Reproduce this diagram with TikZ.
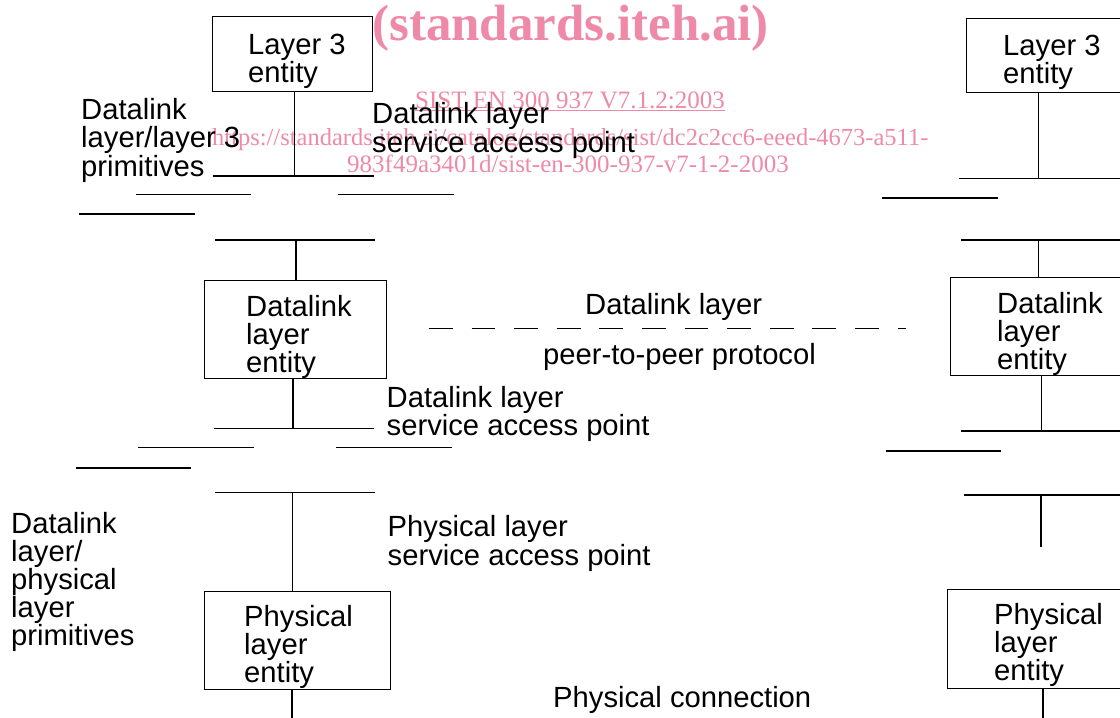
\documentclass[tikz,border=0pt]{standalone}
\usepackage{fontspec}
\setmainfont{Liberation Sans}
\newfontfamily\wmfont{Liberation Serif}
\definecolor{wmpink}{RGB}{238,138,168}
\newcommand\mlines[1]{\vtop{\halign{##\hfil\cr#1\crcr}}}
\begin{document}
\begin{tikzpicture}[x=1pt,y=-1pt,
  lbl/.style={inner sep=0pt, anchor=base west, font=\fontsize{29.2}{#1}\selectfont},
  lbl/.default=28,
  wm/.style={inner sep=0pt, anchor=base west, text=wmpink, font=\wmfont\fontsize{#1}{#1}\selectfont},
  ent/.style={draw, line width=1.1pt, inner sep=0pt, anchor=north west},
  ln/.style={line width=1.1pt},
  dashln/.style={line width=1.1pt, dash pattern=on 23.7pt off 18.9pt}]
\useasboundingbox (0,0) rectangle (1120,718);
\clip (0,0) rectangle (1120,718);
% ---------- watermark (behind) ----------
\node[wm=51] (wm1) at (372,40) {\bfseries (standards.iteh.ai)};
\node[wm=25] (wm2) at (415,108) {\underline{SIST EN 300 937 V7.1.2:2003}};
\node[wm=24.5] (wm3) at (212,145) {https://standards.iteh.ai/catalog/standards/sist/dc2c2cc6-eeed-4673-a511-};
\node[wm=25] (wm4) at (347,172) {983f49a3401d/sist-en-300-937-v7-1-2-2003};
% ---------- left stack ----------
\node[ent, minimum width=160pt, minimum height=75pt] (l3L) at (212,16) {};
\node[lbl] (l3Lt) at (248,54) {\mlines{Layer 3\cr entity}};
\coordinate (sapAL) at (213,176);  \coordinate (sapAR) at (374,176);
\draw[ln] (sapAL) -- (sapAR);
\draw[ln] (294.5,91) coordinate (l3Ls) -- (294.5,176) coordinate (sapAm);
\draw[ln] (136,194.5) coordinate (p1a) -- (251,194.5) coordinate (p1b);
\draw[ln] (338,194.5) coordinate (p2a) -- (454,194.5) coordinate (p2b);
\draw[ln] (79,214) coordinate (p3a) -- (195,214) coordinate (p3b);
\draw[ln] (215,240) coordinate (sapBL) -- (375,240) coordinate (sapBR);
\node[ent, minimum width=182.5pt, minimum height=97.5pt] (dlL) at (203.5,280) {};
\draw[ln] (296,240) coordinate (sapBm) -- (296,280);
\node[lbl] (dlLt) at (246,316.7) {\mlines{Datalink\cr layer\cr entity}};
\draw[ln] (293,377.5) -- (293,428.5) coordinate (sapCm);
\draw[ln] (214,428.5) coordinate (sapCL) -- (374,428.5) coordinate (sapCR);
\draw[ln] (138,447.7) coordinate (q1a) -- (254,447.7) coordinate (q1b);
\draw[ln] (336,447.7) coordinate (q2a) -- (452,447.7) coordinate (q2b);
\draw[ln] (76,468) coordinate (q3a) -- (191,468) coordinate (q3b);
\draw[ln] (215,492.7) coordinate (sapDL) -- (375,492.7) coordinate (sapDR);
\node[ent, minimum width=186pt, minimum height=98pt] (phL) at (204,591) {};
\draw[ln] (292.7,492.7) coordinate (sapDm) -- (292.7,591);
\node[lbl] (phLt) at (244,626) {\mlines{Physical\cr layer\cr entity}};
\coordinate (medL) at (292,718);
\draw[ln] (292,689) -- (medL);
% ---------- right stack ----------
\node[ent, minimum width=160pt, minimum height=74pt] (l3R) at (966,18) {};
\node[lbl] (l3Rt) at (1003,55) {\mlines{Layer 3\cr entity}};
\draw[ln] (1038.7,92) -- (1038.7,178.3) coordinate (rsapAm);
\draw[ln] (958.7,178.3) coordinate (rsapAL) -- (1120,178.3) coordinate (rsapAR);
\draw[ln] (882,198) coordinate (r1a) -- (998,198) coordinate (r1b);
\draw[ln] (961,240) coordinate (rsapBL) -- (1120,240) coordinate (rsapBR);
\node[ent, minimum width=181pt, minimum height=98pt] (dlR) at (950,277) {};
\draw[ln] (1038.7,240) -- (1038.7,277);
\node[lbl] (dlRt) at (997,313) {\mlines{Datalink\cr layer\cr entity}};
\draw[ln] (1041.4,375) -- (1041.4,431) coordinate (rsapCm);
\draw[ln] (961,431) coordinate (rsapCL) -- (1120,431) coordinate (rsapCR);
\draw[ln] (885.7,451) coordinate (r2a) -- (1001,451) coordinate (r2b);
\draw[ln] (964,495) coordinate (rsapDL) -- (1120,495) coordinate (rsapDR);
\draw[ln] (1041,495) -- (1041,547.3) coordinate (rsapDe);
\node[ent, minimum width=186pt, minimum height=98.5pt] (phR) at (947,589) {};
\node[lbl] (phRt) at (994,624) {\mlines{Physical\cr layer\cr entity}};
\coordinate (medR) at (1043,718);
\draw[ln] (1043,687.5) -- (medR);
% ---------- peer-to-peer ----------
\coordinate (dashL) at (429,328.3);
\coordinate (dashR) at (906,328.3);
\draw[dashln] (dashL) -- (dashR);
\node[lbl] (dlp) at (585,314) {Datalink layer};
\node[lbl] (ptp) at (543,364) {peer-to-peer protocol};
% ---------- labels ----------
\node[lbl=28.5] (prim3) at (81,119) {\mlines{Datalink\cr layer/layer 3\cr primitives}};
\node[lbl=29] (sapTop) at (372,123) {\mlines{Datalink layer\cr service access point}};
\node[lbl] (sapMid) at (386.5,407) {\mlines{Datalink layer\cr service access point}};
\node[lbl=29] (sapPh) at (387.5,536) {\mlines{Physical layer\cr service access point}};
\node[lbl] (primPh) at (11,533) {\mlines{Datalink\cr layer/\cr physical\cr layer\cr primitives}};
\node[lbl] (phconn) at (553,707) {Physical connection};
\end{tikzpicture}
\end{document}
